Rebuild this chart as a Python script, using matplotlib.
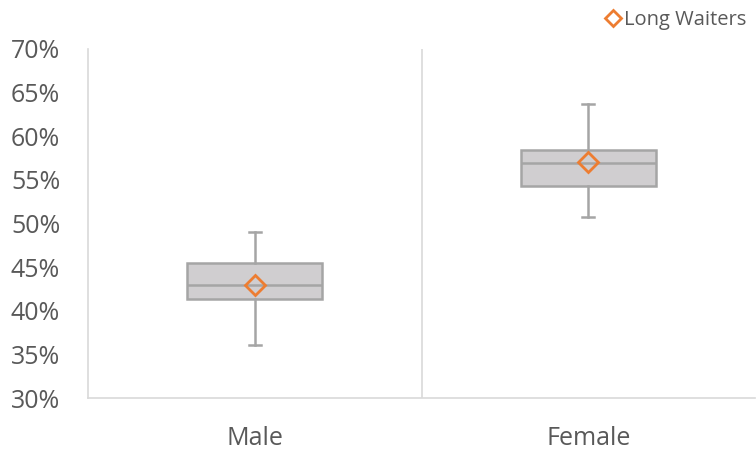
import matplotlib
matplotlib.use("Agg")
import matplotlib.pyplot as plt
from matplotlib.lines import Line2D
from matplotlib.ticker import FuncFormatter

# Share of long waiters by gender (fractions)
categories = ["Male", "Female"]
whisker_low = [0.361, 0.508]
quartile_1 = [0.414, 0.543]
median = [0.429, 0.569]
quartile_3 = [0.455, 0.584]
whisker_high = [0.490, 0.637]
mean = [0.430, 0.570]
series_name = "Long Waiters"

y_ticks = [0.30, 0.35, 0.40, 0.45, 0.50, 0.55, 0.60, 0.65, 0.70]

BOX_FILL = "#D0CED0"
BOX_EDGE = "#A5A5A5"
ORANGE = "#ED7D31"
TEXT = "#595959"
GRID = "#D9D9D9"

plt.rcParams["font.family"] = ["Open Sans", "DejaVu Sans"]

fig = plt.figure(figsize=(7.56, 4.5), dpi=100)
ax = fig.add_axes([88 / 756, 1 - 398 / 450, 667 / 756, 349 / 450])

stats = []
for i, name in enumerate(categories):
    stats.append(dict(label=name, whislo=whisker_low[i], q1=quartile_1[i],
                      med=median[i], q3=quartile_3[i], whishi=whisker_high[i],
                      mean=mean[i], fliers=[]))

positions = list(range(1, len(categories) + 1))
line_kw = dict(color=BOX_EDGE, linewidth=1.8)
ax.bxp(stats, positions=positions, widths=0.405, patch_artist=True,
       showmeans=True, showfliers=False,
       boxprops=dict(facecolor=BOX_FILL, edgecolor=BOX_EDGE, linewidth=1.8),
       medianprops=line_kw, whiskerprops=line_kw, capprops=line_kw,
       capwidths=0.037,
       meanprops=dict(marker="D", markersize=10, markerfacecolor="none",
                      markeredgecolor=ORANGE, markeredgewidth=2.0),
       zorder=3)

ax.set_xlim(0.5, len(categories) + 0.5)
ax.set_ylim(0.30, 0.70)
ax.set_yticks(y_ticks)
ax.yaxis.set_major_formatter(FuncFormatter(lambda v, _: f"{v * 100:.0f}%"))
ax.set_xticks(positions)
ax.set_xticklabels(categories)

# category separators
for b in range(1, len(categories)):
    ax.axvline(b + 0.5, color=GRID, linewidth=1.2, zorder=1)

for side in ["top", "right"]:
    ax.spines[side].set_visible(False)
for side in ["left", "bottom"]:
    ax.spines[side].set_color(GRID)
    ax.spines[side].set_linewidth(1.2)

ax.tick_params(axis="both", length=0, labelcolor=TEXT, labelsize=18)
ax.tick_params(axis="y", pad=20)
ax.tick_params(axis="x", pad=20)

handle = Line2D([], [], linestyle="none", marker="D", markersize=8,
                markerfacecolor="none", markeredgecolor=ORANGE,
                markeredgewidth=2.0)
fig.legend([handle], [series_name], loc="upper right",
           bbox_to_anchor=(1.0, 1.0), frameon=False, fontsize=14.5,
           labelcolor=TEXT, handlelength=0.8, handletextpad=0.1,
           borderaxespad=0.1)

fig.savefig("out.png", dpi=100)
